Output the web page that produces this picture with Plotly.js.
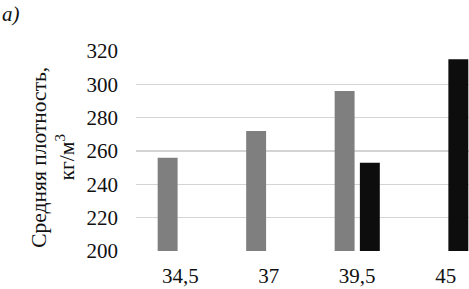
<!DOCTYPE html>
<html>
<head>
<meta charset="utf-8">
<script src="https://cdn.plot.ly/plotly-3.0.1.min.js"></script>
<style>html,body{margin:0;padding:0;background:#fff;}#chart{width:469px;height:289px;}</style>
</head>
<body>
<div id="chart"></div>
<script>
var categories = ["34,5", "37", "39,5", "45"];
var seriesGray = [256, 272, 296, null];
var seriesBlack = [null, null, 253, 315];
var yTicks = [200, 220, 240, 260, 280, 300, 320];
var yTitle = "Средняя плотность,<br>кг/м<sup>3</sup>";
var panelLabel = "а)";

var font = "'Liberation Serif', 'Times New Roman', serif";

var traces = [
  {type: "bar", x: categories, y: seriesGray, marker: {color: "#7f7f7f"}, hoverinfo: "none"},
  {type: "bar", x: categories, y: seriesBlack, marker: {color: "#0d0d0d"}, hoverinfo: "none"}
];

var layout = {
  width: 469, height: 289,
  margin: {l: 136, r: 0, t: 51, b: 38, pad: 0},
  paper_bgcolor: "#fff", plot_bgcolor: "#fff",
  showlegend: false,
  barmode: "group",
  bargap: 0.43,
  bargroupgap: 0.21,
  font: {family: font, size: 21, color: "#111"},
  xaxis: {
    type: "category",
    range: [-0.5, 3.263],
    showgrid: false, showline: false, zeroline: false,
    ticks: "", ticklabelstandoff: 10,
    tickfont: {family: font, size: 21, color: "#111"}
  },
  yaxis: {
    range: [200, 320],
    tickvals: yTicks,
    showgrid: true, gridcolor: "#d4d4d4", gridwidth: 1.5,
    showline: false, zeroline: false,
    ticks: "", ticklabelstandoff: 17,
    tickfont: {family: font, size: 21, color: "#111"}
  },
  annotations: [
    {text: yTitle, xref: "paper", yref: "paper", x: -0.25, y: 0.47, xanchor: "center", yanchor: "middle",
     textangle: -90, showarrow: false, font: {family: font, size: 21.5, color: "#111"}},
    {text: "<i>" + panelLabel + "</i>", xref: "paper", yref: "paper", x: -0.408, y: 1.255, xanchor: "left", yanchor: "top",
     showarrow: false, font: {family: font, size: 21, color: "#111"}}
  ]
};

Plotly.newPlot("chart", traces, layout, {displayModeBar: false, staticPlot: true});
</script>
</body>
</html>
